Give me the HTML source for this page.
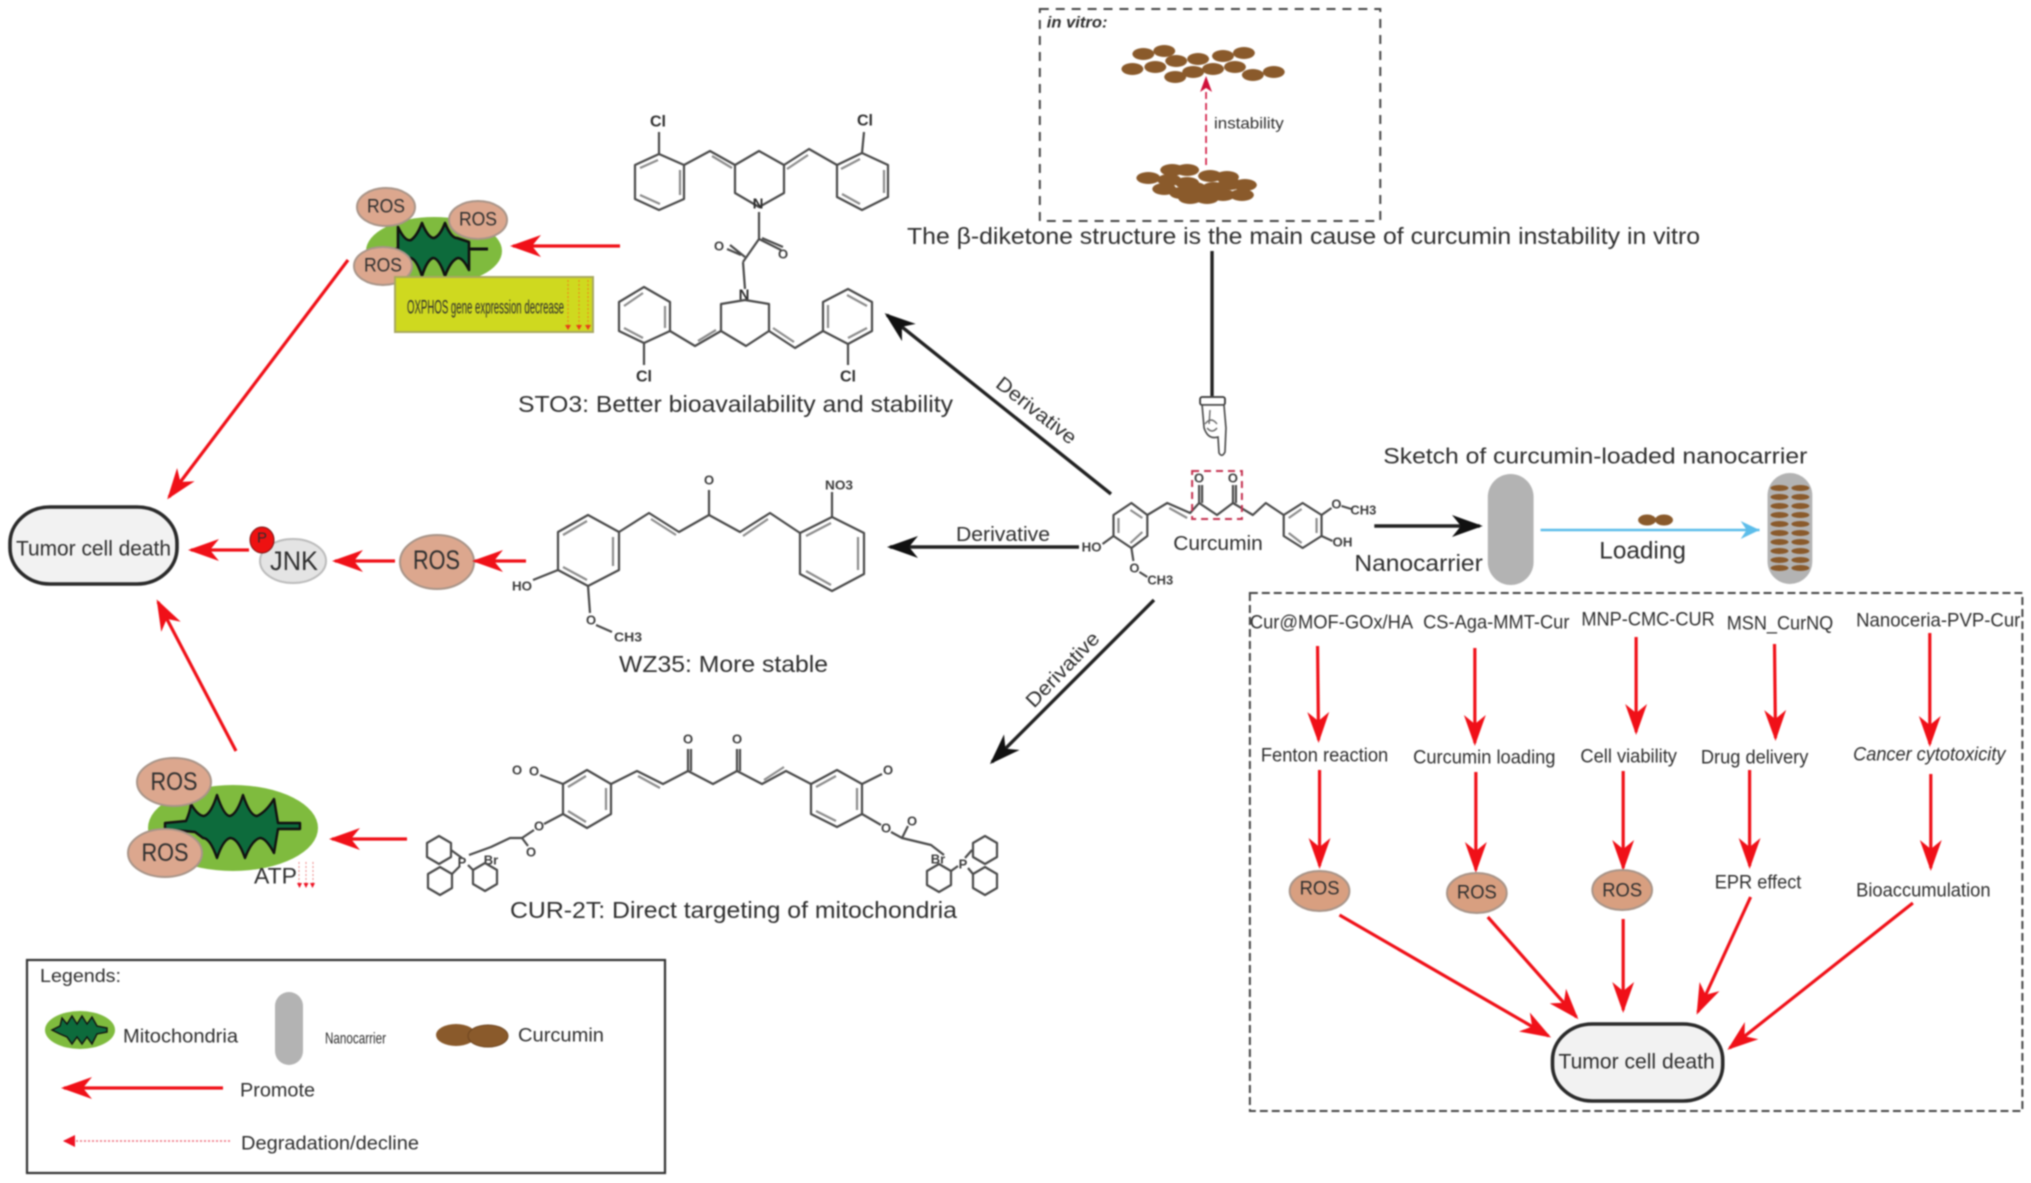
<!DOCTYPE html>
<html><head><meta charset="utf-8"><title>Curcumin diagram</title>
<style>
html,body{margin:0;padding:0;background:#fff;width:2031px;height:1183px;overflow:hidden}
svg{display:block;filter:blur(.8px)}
text{font-family:"Liberation Sans",sans-serif;fill:#2e2e2e;dominant-baseline:central}
.b{fill:none;stroke:#4a4a4a;stroke-width:2.2;stroke-linejoin:round}
.d{fill:none;stroke:#8c8c8c;stroke-width:2.2}
.a{font-size:13px;font-weight:bold;fill:#3c3c3c}
.r{stroke:#f01018;stroke-width:3.2;fill:none}
.k{stroke:#222;stroke-width:3.4;fill:none}
.ros{fill:#dca78e;stroke:#a89488;stroke-width:2}
.ros2{fill:#d89f80;stroke:#a89488;stroke-width:2}
.cur{fill:#8a5a2b}
.death{fill:#f2f2f2;stroke:#2a2a2a;stroke-width:3.6}
</style></head><body>
<svg width="2031" height="1183" viewBox="0 0 2031 1183" xmlns="http://www.w3.org/2000/svg">
<defs>
<marker id="rh" markerUnits="userSpaceOnUse" markerWidth="34" markerHeight="26" viewBox="0 -13 34 26" refX="28" refY="0" orient="auto"><path d="M31 0L0-11L9 0L0 11Z" fill="#f01018"/></marker>
<marker id="kh" markerUnits="userSpaceOnUse" markerWidth="34" markerHeight="26" viewBox="0 -13 34 26" refX="28" refY="0" orient="auto"><path d="M31 0L0-11L9 0L0 11Z" fill="#111"/></marker>
<marker id="ch" markerUnits="userSpaceOnUse" markerWidth="18" markerHeight="16" viewBox="0 -8 18 16" refX="14" refY="0" orient="auto"><path d="M16 0L0-6L4 0L0 6Z" fill="#d0103a"/></marker>
<marker id="ph" markerUnits="userSpaceOnUse" markerWidth="14" markerHeight="14" viewBox="0 -7 14 14" refX="11" refY="0" orient="auto"><path d="M12 0L0-6V6Z" fill="#ee1122"/></marker>
<marker id="bh" markerUnits="userSpaceOnUse" markerWidth="26" markerHeight="22" viewBox="0 -11 26 22" refX="22" refY="0" orient="auto"><path d="M3-9L22 0L3 9L9 0Z" fill="#5cbdea"/></marker>
</defs>
<rect width="2031" height="1183" fill="#fff"/>

<g transform="translate(1000 0) scale(.9955 1) translate(-1000 0)">
<!-- in vitro -->
<rect x="1040" y="9" width="342" height="212" fill="none" stroke="#444" stroke-width="2" stroke-dasharray="9 7"/>
<text x="1047" y="23" font-size="16" font-style="italic" font-weight="bold" textLength="61" lengthAdjust="spacingAndGlyphs">in vitro:</text>
<g class="cur">
<ellipse cx="1144" cy="54" rx="11" ry="6"/><ellipse cx="1165" cy="51" rx="11" ry="6"/><ellipse cx="1177" cy="61" rx="11" ry="6"/><ellipse cx="1199" cy="59" rx="11" ry="6"/><ellipse cx="1224" cy="56" rx="11" ry="6"/><ellipse cx="1245" cy="53" rx="11" ry="6"/><ellipse cx="1133" cy="69" rx="11" ry="6"/><ellipse cx="1156" cy="67" rx="11" ry="6"/><ellipse cx="1194" cy="72" rx="11" ry="6"/><ellipse cx="1176" cy="77" rx="11" ry="6"/><ellipse cx="1214" cy="69" rx="11" ry="6"/><ellipse cx="1236" cy="67" rx="11" ry="6"/><ellipse cx="1254" cy="75" rx="11" ry="6"/><ellipse cx="1275" cy="72" rx="11" ry="6"/>
<ellipse cx="1173" cy="170" rx="12" ry="6"/><ellipse cx="1188" cy="170" rx="12" ry="6"/><ellipse cx="1149" cy="178" rx="12" ry="6"/><ellipse cx="1170" cy="180" rx="12" ry="6"/><ellipse cx="1211" cy="176" rx="12" ry="6"/><ellipse cx="1228" cy="177" rx="12" ry="6"/><ellipse cx="1188" cy="183" rx="12" ry="6"/><ellipse cx="1165" cy="189" rx="12" ry="6"/><ellipse cx="1195" cy="188" rx="12" ry="6"/><ellipse cx="1215" cy="188" rx="12" ry="6"/><ellipse cx="1246" cy="185" rx="12" ry="6"/><ellipse cx="1231" cy="184" rx="12" ry="6"/><ellipse cx="1182" cy="193" rx="12" ry="6"/><ellipse cx="1205" cy="191" rx="12" ry="6"/><ellipse cx="1224" cy="195" rx="12" ry="6"/><ellipse cx="1243" cy="195" rx="12" ry="6"/><ellipse cx="1191" cy="198" rx="12" ry="6"/><ellipse cx="1208" cy="198" rx="12" ry="6"/>
</g>
<line x1="1207" y1="165" x2="1207" y2="78" stroke="#d0103a" stroke-width="1.6" stroke-dasharray="7 4" marker-end="url(#ch)"/>
<text x="1215" y="124" font-size="16" textLength="70" lengthAdjust="spacingAndGlyphs">instability</text>

<!-- pointer -->
<line x1="1213" y1="251" x2="1213" y2="396" stroke="#222" stroke-width="3.4"/>
<rect x="1201" y="397" width="25" height="8" rx="2" fill="#fff" stroke="#333" stroke-width="1.8"/>
<path d="M1203 405L1225 405L1227 428L1226 452Q1223 458 1220 453L1219 437Q1209 440 1205 428Z" fill="#fff" stroke="#444" stroke-width="1.6"/>
<path d="M1211 410L1210 424M1206 424Q1212 416 1218 424M1208 428Q1213 434 1218 428" fill="none" stroke="#666" stroke-width="1.4"/>

<!-- Curcumin -->
<g>
<polygon class="b" points="1132,503 1148,515 1148,536 1132,548 1114,536 1114,515"/>
<path class="d" d="M1131 510L1143 518M1143 532L1131 543M1119 533V518"/>
<polyline class="b" points="1148,515 1168,503 1191,513 1200,503 1218,515 1234,503 1254,515 1267,503 1285,515"/>
<path class="d" d="M1170 508L1188 518"/>
<polygon class="b" points="1304,503 1323,515 1323,536 1304,548 1285,536 1285,515"/>
<path class="d" d="M1290 518L1303 509M1318 518V533M1303 543L1290 533"/>
<path class="b" d="M1200 503V485M1203 503V485M1234 503V485M1237 503V485M1323 515L1333 508M1343 506L1353 509M1323 536L1334 541M1114 536L1103 544M1132 548L1134 561M1140 572L1148 577"/>
<text x="1200" y="478" font-size="13" class="a" text-anchor="middle">O</text>
<text x="1234" y="478" font-size="13" class="a" text-anchor="middle">O</text>
<text x="1338" y="504" class="a" text-anchor="middle">O</text>
<text x="1352" y="510" class="a" textLength="26" lengthAdjust="spacingAndGlyphs">CH3</text>
<text x="1334" y="542" class="a" textLength="20" lengthAdjust="spacingAndGlyphs">OH</text>
<text x="1082" y="547" class="a" textLength="20" lengthAdjust="spacingAndGlyphs">HO</text>
<text x="1135" y="568" class="a" text-anchor="middle">O</text>
<text x="1148" y="580" class="a" textLength="26" lengthAdjust="spacingAndGlyphs">CH3</text>
<rect x="1193" y="471" width="50" height="48" fill="none" stroke="#c4304f" stroke-width="2" stroke-dasharray="7 5"/>
<text x="1174" y="544" font-size="20" textLength="90" lengthAdjust="spacingAndGlyphs">Curcumin</text>
</g>

<!-- Nanocarrier -->
<line class="k" x1="1376" y1="526" x2="1482" y2="526" marker-end="url(#kh)" stroke-width="4"/>
<rect x="1490" y="474" width="46" height="111" rx="23" ry="23" fill="#b3b3b3"/>
<text x="1385" y="456" font-size="22" textLength="426" lengthAdjust="spacingAndGlyphs">Sketch of curcumin-loaded nanocarrier</text>
<text x="1356" y="563" font-size="23" textLength="129" lengthAdjust="spacingAndGlyphs">Nanocarrier</text>
<line x1="1543" y1="530" x2="1763" y2="530" stroke="#5cbdea" stroke-width="2.6" marker-end="url(#bh)"/>
<ellipse class="cur" cx="1650" cy="520" rx="9" ry="5.5"/><ellipse class="cur" cx="1667" cy="520" rx="9" ry="5.5"/>
<text x="1602" y="551" font-size="24" textLength="87" lengthAdjust="spacingAndGlyphs">Loading</text>
<rect x="1771" y="473" width="45" height="111" rx="22.5" ry="22.5" fill="#b3b3b3"/>
<g class="cur">
<ellipse cx="1783" cy="488" rx="9" ry="3"/><ellipse cx="1804" cy="488" rx="9" ry="3"/>
<ellipse cx="1783" cy="497" rx="9" ry="3"/><ellipse cx="1804" cy="497" rx="9" ry="3"/>
<ellipse cx="1783" cy="506" rx="9" ry="3"/><ellipse cx="1804" cy="506" rx="9" ry="3"/>
<ellipse cx="1783" cy="515" rx="9" ry="3"/><ellipse cx="1804" cy="515" rx="9" ry="3"/>
<ellipse cx="1783" cy="524" rx="9" ry="3"/><ellipse cx="1804" cy="524" rx="9" ry="3"/>
<ellipse cx="1783" cy="533" rx="9" ry="3"/><ellipse cx="1804" cy="533" rx="9" ry="3"/>
<ellipse cx="1783" cy="542" rx="9" ry="3"/><ellipse cx="1804" cy="542" rx="9" ry="3"/>
<ellipse cx="1783" cy="551" rx="9" ry="3"/><ellipse cx="1804" cy="551" rx="9" ry="3"/>
<ellipse cx="1783" cy="560" rx="9" ry="3"/><ellipse cx="1804" cy="560" rx="9" ry="3"/>
<ellipse cx="1783" cy="568" rx="9" ry="3"/><ellipse cx="1804" cy="568" rx="9" ry="3"/>
</g>

<!-- Right box -->
<rect x="1251" y="593" width="776" height="518" fill="none" stroke="#444" stroke-width="2" stroke-dasharray="8 4"/>
<text x="1251" y="623" font-size="19" textLength="164" lengthAdjust="spacingAndGlyphs">Cur@MOF-GOx/HA</text>
<text x="1425" y="623" font-size="19" textLength="147" lengthAdjust="spacingAndGlyphs">CS-Aga-MMT-Cur</text>
<text x="1584" y="620" font-size="19" textLength="134" lengthAdjust="spacingAndGlyphs">MNP-CMC-CUR</text>
<text x="1730" y="624" font-size="19" textLength="107" lengthAdjust="spacingAndGlyphs">MSN_CurNQ</text>
<text x="1860" y="621" font-size="19" textLength="165" lengthAdjust="spacingAndGlyphs">Nanoceria-PVP-Cur</text>
<line class="r" x1="1319" y1="646" x2="1320" y2="740" marker-end="url(#rh)"/>
<line class="r" x1="1477" y1="648" x2="1477" y2="743" marker-end="url(#rh)"/>
<line class="r" x1="1639" y1="637" x2="1639" y2="732" marker-end="url(#rh)"/>
<line class="r" x1="1778" y1="644" x2="1779" y2="738" marker-end="url(#rh)"/>
<line class="r" x1="1934" y1="633" x2="1934" y2="744" marker-end="url(#rh)"/>
<text x="1262" y="756" font-size="19" textLength="128" lengthAdjust="spacingAndGlyphs">Fenton reaction</text>
<text x="1415" y="758" font-size="19" textLength="143" lengthAdjust="spacingAndGlyphs">Curcumin loading</text>
<text x="1583" y="757" font-size="19" textLength="97" lengthAdjust="spacingAndGlyphs">Cell viability</text>
<text x="1704" y="758" font-size="19" textLength="108" lengthAdjust="spacingAndGlyphs">Drug delivery</text>
<text x="1857" y="755" font-size="19" font-style="italic" textLength="153" lengthAdjust="spacingAndGlyphs">Cancer cytotoxicity</text>
<line class="r" x1="1321" y1="770" x2="1321" y2="866" marker-end="url(#rh)"/>
<line class="r" x1="1478" y1="772" x2="1478" y2="870" marker-end="url(#rh)"/>
<line class="r" x1="1626" y1="771" x2="1626" y2="868" marker-end="url(#rh)"/>
<line class="r" x1="1753" y1="770" x2="1753" y2="866" marker-end="url(#rh)"/>
<line class="r" x1="1935" y1="774" x2="1935" y2="868" marker-end="url(#rh)"/>
<ellipse class="ros2" cx="1321" cy="891" rx="30" ry="20"/>
<ellipse class="ros2" cx="1479" cy="893" rx="30" ry="20"/>
<ellipse class="ros2" cx="1625" cy="890" rx="30" ry="20"/>
<text x="1321" y="889" font-size="19" text-anchor="middle" textLength="40" lengthAdjust="spacingAndGlyphs">ROS</text>
<text x="1479" y="893" font-size="19" text-anchor="middle" textLength="40" lengthAdjust="spacingAndGlyphs">ROS</text>
<text x="1625" y="891" font-size="19" text-anchor="middle" textLength="40" lengthAdjust="spacingAndGlyphs">ROS</text>
<text x="1718" y="883" font-size="19" textLength="87" lengthAdjust="spacingAndGlyphs">EPR effect</text>
<text x="1860" y="891" font-size="19" textLength="135" lengthAdjust="spacingAndGlyphs">Bioaccumulation</text>
<line class="r" x1="1341" y1="915" x2="1551" y2="1036" marker-end="url(#rh)"/>
<line class="r" x1="1490" y1="917" x2="1579" y2="1017" marker-end="url(#rh)"/>
<line class="r" x1="1626" y1="919" x2="1626" y2="1010" marker-end="url(#rh)"/>
<line class="r" x1="1754" y1="897" x2="1701" y2="1012" marker-end="url(#rh)"/>
<line class="r" x1="1917" y1="903" x2="1733" y2="1048" marker-end="url(#rh)"/>
<rect class="death" x="1555" y="1024" width="171" height="77" rx="40" ry="36"/>
<text x="1561" y="1062" font-size="21" textLength="157" lengthAdjust="spacingAndGlyphs">Tumor cell death</text>
</g>

<text x="907" y="236" font-size="23" textLength="793" lengthAdjust="spacingAndGlyphs">The β-diketone structure is the main cause of curcumin instability in vitro</text>

<!-- Derivative arrows -->
<line class="k" x1="1111" y1="494" x2="887" y2="315" marker-end="url(#kh)"/>
<line class="k" x1="1079" y1="547" x2="890" y2="547" marker-end="url(#kh)"/>
<line class="k" x1="1154" y1="600" x2="992" y2="762" marker-end="url(#kh)"/>
<text transform="translate(1036 411) rotate(38)" font-size="20" text-anchor="middle" textLength="96" lengthAdjust="spacingAndGlyphs">Derivative</text>
<text x="956" y="535" font-size="20" textLength="94" lengthAdjust="spacingAndGlyphs">Derivative</text>
<text transform="translate(1063 670) rotate(-46)" font-size="20" text-anchor="middle" textLength="96" lengthAdjust="spacingAndGlyphs">Derivative</text>

<!-- STO3 -->
<g>
<polygon class="b" points="659,154 684,165 684,199 659,210 635,199 635,165"/>
<path class="d" d="M640 168L658 160M680 170V195M660 204L640 195"/>
<polyline class="b" points="684,165 710,151 735,165"/>
<path class="d" d="M712 156L732 168"/>
<polygon class="b" points="735,165 759,151 784,165 784,193 759,207 735,193"/>
<polyline class="b" points="784,165 809,149 837,165"/>
<path class="d" d="M787 169L808 155"/>
<polygon class="b" points="862,153 888,165 888,197 862,210 837,197 837,165"/>
<path class="d" d="M860 159L841 169M884 170V193M842 194L860 204"/>
<path class="b" d="M659 154V132M862 153L864 132M759 212V239L781 250M762 238L783 247M759 239L743 262M741 255L727 249M745 257L730 245M743 262L745 289"/>
<text x="658" y="122" font-size="16" font-weight="bold" fill="#444" text-anchor="middle">Cl</text>
<text x="865" y="121" font-size="16" font-weight="bold" fill="#444" text-anchor="middle">Cl</text>
<text x="758" y="204" font-size="15" font-weight="bold" fill="#333" text-anchor="middle">N</text>
<text x="719" y="246" class="a" text-anchor="middle">O</text>
<text x="783" y="254" class="a" text-anchor="middle">O</text>
<text x="744" y="295" font-size="15" font-weight="bold" fill="#333" text-anchor="middle">N</text>
<polygon class="b" points="745,300 769,304 769,331 746,346 721,331 721,304"/>
<polygon class="b" points="644,287 670,302 670,331 644,343 619,331 619,302"/>
<path class="d" d="M624 306L643 293M665 306V328M643 338L624 328"/>
<polyline class="b" points="670,331 695,346 721,331"/>
<path class="d" d="M698 341L716 330"/>
<polyline class="b" points="769,331 795,348 823,331"/>
<path class="d" d="M773 328L794 342"/>
<polygon class="b" points="848,289 872,302 872,331 848,344 823,331 823,302"/>
<path class="d" d="M847 295L867 306M867 328L848 338M828 328V305"/>
<path class="b" d="M644 343V365M848 344V365"/>
<text x="644" y="377" font-size="16" font-weight="bold" fill="#444" text-anchor="middle">Cl</text>
<text x="848" y="377" font-size="16" font-weight="bold" fill="#444" text-anchor="middle">Cl</text>
<text x="518" y="404" font-size="23" textLength="435" lengthAdjust="spacingAndGlyphs">STO3: Better bioavailability and stability</text>
</g>

<!-- WZ35 -->
<g>
<polygon class="b" points="588,515 619,532 619,570 588,586 558,570 558,532"/>
<path class="d" d="M587 521L563 535M613 537V566M563 567L587 580"/>
<polyline class="b" points="619,532 649,513 679,532 709,515 740,532 770,513 800,533"/>
<path class="d" d="M651 519L676 535M743 536L768 519"/>
<polygon class="b" points="832,517 864,533 864,574 832,591 800,574 800,533"/>
<path class="d" d="M806 536L831 523M858 537V570M831 585L806 571"/>
<path class="b" d="M709 515V490M832 517V492M558 570L533 580M588 586L590 613M596 625L612 632"/>
<text x="709" y="480" class="a" text-anchor="middle">O</text>
<text x="825" y="485" class="a" textLength="28" lengthAdjust="spacingAndGlyphs">NO3</text>
<text x="512" y="586" class="a" textLength="20" lengthAdjust="spacingAndGlyphs">HO</text>
<text x="591" y="620" class="a" text-anchor="middle">O</text>
<text x="614" y="637" class="a" textLength="28" lengthAdjust="spacingAndGlyphs">CH3</text>
<text x="619" y="664" font-size="23" textLength="209" lengthAdjust="spacingAndGlyphs">WZ35: More stable</text>
</g>

<!-- CUR-2T -->
<g>
<polygon class="b" points="587,770 611,784 611,814 587,828 563,814 563,784"/>
<path class="d" d="M586 776L568 787M606 788V810M586 822L568 811"/>
<polyline class="b" points="611,784 637,771 663,784 688,771 713,784 737,771 762,784 786,771 811,784"/>
<path class="d" d="M638 776L660 788M764 780L784 767"/>
<polygon class="b" points="837,770 862,784 862,814 837,827 811,814 811,784"/>
<path class="d" d="M816 787L836 776M857 788V810M836 821L816 811"/>
<path class="b" d="M688 771V749M691 771V749M737 771V749M740 771V749M563 784L540 775M862 784L882 774M563 814L544 824M534 830L522 838L510 838L491 847L469 855M522 838L528 846M862 814L881 825M891 832L902 838L908 826M902 838L931 845L944 855"/>
<text x="517" y="770" class="a" text-anchor="middle">O</text>
<text x="534" y="771" class="a" text-anchor="middle">O</text>
<text x="888" y="770" class="a" text-anchor="middle">O</text>
<text x="688" y="739" class="a" text-anchor="middle">O</text>
<text x="737" y="739" class="a" text-anchor="middle">O</text>
<text x="539" y="826" class="a" text-anchor="middle">O</text>
<text x="531" y="852" class="a" text-anchor="middle">O</text>
<text x="886" y="828" class="a" text-anchor="middle">O</text>
<text x="912" y="821" class="a" text-anchor="middle">O</text>
<text x="462" y="862" class="a" text-anchor="middle">P</text>
<text x="491" y="860" class="a" text-anchor="middle">Br</text>
<text x="938" y="859" class="a" text-anchor="middle">Br</text>
<text x="963" y="864" class="a" text-anchor="middle">P</text>
<polygon class="b" points="439,836 451,843 451,857 439,864 427,857 427,843"/>
<polygon class="b" points="440,867 452,874 452,888 440,895 428,888 428,874"/>
<polygon class="b" points="485,863 497,870 497,884 485,891 473,884 473,870"/>
<polygon class="b" points="985,836 997,843 997,857 985,864 973,857 973,843"/>
<polygon class="b" points="985,867 997,874 997,888 985,895 973,888 973,874"/>
<polygon class="b" points="939,864 951,871 951,885 939,892 927,885 927,871"/>
<path class="b" d="M451 850L462 858M452 874L460 866M468 865L473 870M972 850L965 858M973 874L968 868M951 871L958 866"/>
<text x="510" y="910" font-size="23" textLength="447" lengthAdjust="spacingAndGlyphs">CUR-2T: Direct targeting of mitochondria</text>
</g>

<!-- Mito 1 -->
<ellipse cx="434" cy="251" rx="68" ry="34" fill="#7fbb3e"/>
<path d="M378 249H488" stroke="#111" stroke-width="3" fill="none"/>
<path d="M398 227Q405 242 411 240Q417 236 422 223Q428 238 434 238Q440 236 445 223Q451 238 457 238L469 242V270Q463 258 458 258Q451 260 445 276Q439 258 433 258Q427 260 422 276Q416 258 410 258Q404 258 398 250Z" fill="#0d6b3c" stroke="#111" stroke-width="2.6" stroke-linejoin="round"/>
<ellipse class="ros" cx="386" cy="207" rx="29" ry="19"/>
<ellipse class="ros" cx="478" cy="220" rx="29" ry="19"/>
<ellipse class="ros" cx="383" cy="266" rx="29" ry="19"/>
<text x="386" y="207" font-size="19" text-anchor="middle" textLength="38" lengthAdjust="spacingAndGlyphs" fill="#664">ROS</text>
<text x="478" y="220" font-size="19" text-anchor="middle" textLength="38" lengthAdjust="spacingAndGlyphs" fill="#664">ROS</text>
<text x="383" y="266" font-size="19" text-anchor="middle" textLength="38" lengthAdjust="spacingAndGlyphs" fill="#664">ROS</text>
<rect x="395" y="277" width="198" height="55" fill="#cfd91f" stroke="#a8a860" stroke-width="2"/>
<text x="407" y="308" font-size="19" textLength="157" lengthAdjust="spacingAndGlyphs" fill="#5a5a10">OXPHOS gene expression decrease</text>
<g stroke="#f08018" stroke-width="1" stroke-dasharray="2 2"><line x1="568" y1="280" x2="568" y2="325"/><line x1="579" y1="280" x2="579" y2="325"/><line x1="588" y1="280" x2="588" y2="325"/></g>
<path d="M565 325h6l-3 5zM576 325h6l-3 5zM585 325h6l-3 5z" fill="#e84018"/>
<line class="r" x1="620" y1="246" x2="513" y2="246" marker-end="url(#rh)"/>
<line class="r" x1="348" y1="260" x2="169" y2="497" marker-end="url(#rh)"/>

<!-- left pathway -->
<rect class="death" x="10" y="507" width="167" height="77" rx="40" ry="36"/>
<text x="16" y="549" font-size="21" textLength="155" lengthAdjust="spacingAndGlyphs">Tumor cell death</text>
<line class="r" x1="249" y1="550" x2="191" y2="550" marker-end="url(#rh)"/>
<ellipse cx="293" cy="561" rx="33" ry="22" fill="#e4e4e4" stroke="#bbb" stroke-width="2"/>
<ellipse cx="262" cy="540" rx="12" ry="13" fill="#ee1111" stroke="#7a1010" stroke-width="1"/>
<text x="262" y="538" font-size="15" text-anchor="middle" fill="#511">P</text>
<text x="270" y="561" font-size="27" textLength="48" lengthAdjust="spacingAndGlyphs">JNK</text>
<line class="r" x1="395" y1="561" x2="335" y2="561" marker-end="url(#rh)"/>
<ellipse class="ros" cx="437" cy="562" rx="37" ry="27"/>
<text x="413" y="560" font-size="27" textLength="47" lengthAdjust="spacingAndGlyphs" fill="#333">ROS</text>
<line class="r" x1="526" y1="561" x2="475" y2="561" marker-end="url(#rh)"/>

<!-- Mito 2 -->
<ellipse cx="233" cy="828" rx="85" ry="43" fill="#7fbb3e"/>
<path d="M165 823L186 821Q190 812 191 804Q198 816 204 816Q211 814 217 795Q224 816 230 816Q237 814 243 795Q250 816 257 816Q266 812 274 799L278 823H300V829H278L274 853Q266 838 260 838Q252 840 245 858Q238 838 230 838Q223 840 217 858Q210 838 203 838L195 832L165 829Z" fill="#0d6b3c" stroke="#111" stroke-width="2.4" stroke-linejoin="round"/>
<ellipse class="ros" cx="174" cy="782" rx="37" ry="24"/>
<ellipse class="ros" cx="165" cy="853" rx="37" ry="24"/>
<text x="174" y="782" font-size="25" text-anchor="middle" textLength="47" lengthAdjust="spacingAndGlyphs">ROS</text>
<text x="165" y="853" font-size="25" text-anchor="middle" textLength="47" lengthAdjust="spacingAndGlyphs">ROS</text>
<text x="254" y="876" font-size="22" textLength="43" lengthAdjust="spacingAndGlyphs">ATP</text>
<g stroke="#ee8888" stroke-width="1" stroke-dasharray="2 2"><line x1="299" y1="862" x2="299" y2="883"/><line x1="306" y1="862" x2="306" y2="883"/><line x1="313" y1="862" x2="313" y2="883"/></g>
<path d="M297 883h5l-2.500 5zM303.500 883h5l-2.500 5zM310 883h5l-2.500 5z" fill="#ee1122"/>
<line class="r" x1="407" y1="839" x2="332" y2="839" marker-end="url(#rh)"/>
<line class="r" x1="236" y1="751" x2="158" y2="602" marker-end="url(#rh)"/>

<!-- Legend -->
<rect x="27" y="960" width="638" height="213" fill="none" stroke="#333" stroke-width="2.2"/>
<text x="40" y="976" font-size="18" textLength="81" lengthAdjust="spacingAndGlyphs">Legends:</text>
<ellipse cx="80" cy="1030" rx="35" ry="19" fill="#7fbb3e"/>
<path d="M52 1030L60 1026L62 1018L67 1024L72 1016L77 1024L82 1016L87 1024L92 1017L97 1026L107 1028V1032L97 1034L92 1044L87 1037L82 1044L77 1037L72 1044L67 1037L60 1034Z" fill="#0d6b3c" stroke="#111" stroke-width="1.4"/>
<text x="123" y="1037" font-size="19" textLength="115" lengthAdjust="spacingAndGlyphs">Mitochondria</text>
<rect x="275" y="992" width="28" height="73" rx="14" fill="#b3b3b3"/>
<text x="325" y="1039" font-size="16" textLength="61" lengthAdjust="spacingAndGlyphs">Nanocarrier</text>
<ellipse class="cur" cx="456" cy="1035" rx="20" ry="11"/><ellipse class="cur" cx="488" cy="1036" rx="20" ry="11" stroke="#6d4520" stroke-width="1"/>
<text x="518" y="1036" font-size="19" textLength="86" lengthAdjust="spacingAndGlyphs">Curcumin</text>
<line class="r" x1="223" y1="1088" x2="64" y2="1088" marker-end="url(#rh)"/>
<text x="240" y="1091" font-size="19" textLength="75" lengthAdjust="spacingAndGlyphs">Promote</text>
<line x1="230" y1="1141" x2="64" y2="1141" stroke="#ee6677" stroke-width="1.6" stroke-dasharray="2 2" marker-end="url(#ph)"/>
<text x="241" y="1144" font-size="19" textLength="178" lengthAdjust="spacingAndGlyphs">Degradation/decline</text>
</svg>
</body></html>
